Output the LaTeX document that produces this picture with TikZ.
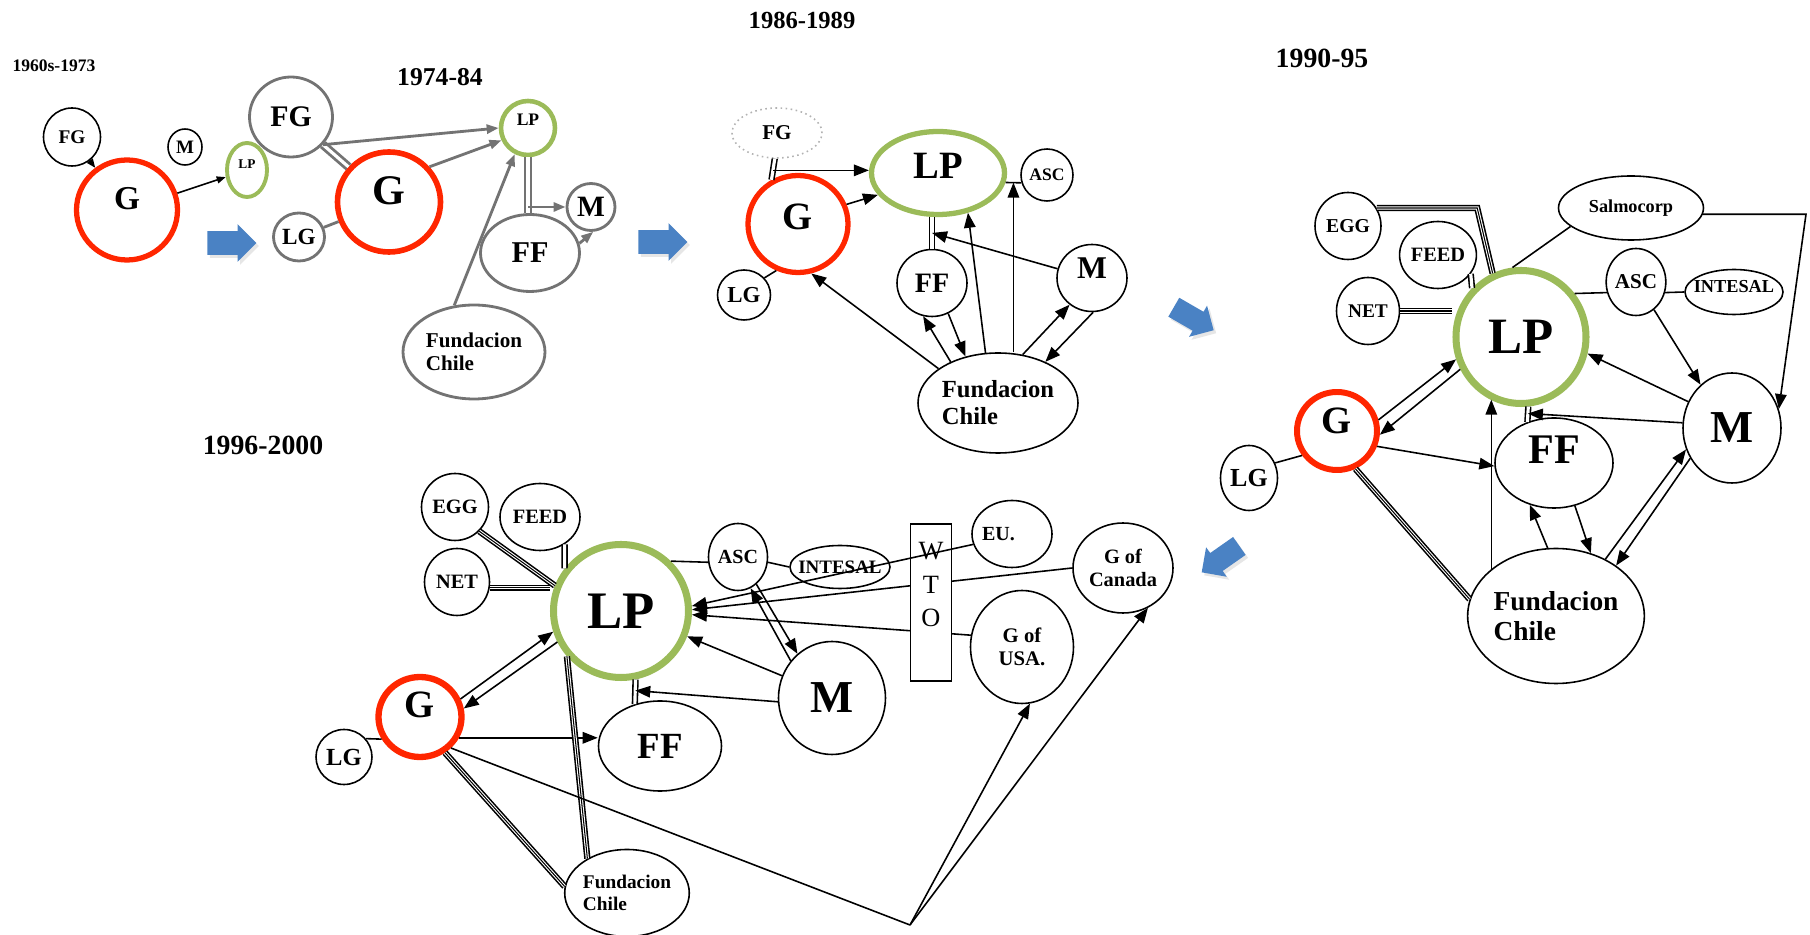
\documentclass[tikz,border=0pt]{standalone}
\usepackage{fontspec}
\setmainfont{Liberation Serif}
\usetikzlibrary{shapes.geometric,shapes.arrows,arrows.meta,calc,shadows}

\definecolor{ringred}{RGB}{255,38,0}
\definecolor{ringgreen}{RGB}{155,187,89}
\definecolor{arrblue}{RGB}{74,130,196}

\newcommand{\fsz}[1]{\fontsize{#1}{#1}\selectfont}

\tikzset{
  nd/.style 2 args={ellipse, draw, inner sep=0pt, minimum width=#1, minimum height=#2},
  sz/.style={font=\bfseries\fsz{#1}},
  redring/.style 2 args={draw=ringred, line width=#1, text depth=#2},
  greenring/.style={draw=ringgreen, line width=#1},
  oldln/.style={draw=black!55, line width=0.8pt},
  dbl/.style={double, double distance=0.9pt},
  tripleln/.style={draw=white, line width=0.9pt, preaction={draw=black, line width=1.8pt}, postaction={draw=black, line width=0.3pt}},
  bluearr/.style={single arrow, fill=arrblue, draw=none, inner xsep=0pt, inner ysep=1.1mm, minimum height=4.9mm, minimum width=3.6mm, single arrow head extend=0.7mm, drop shadow={opacity=0.2, shadow xshift=0.25mm, shadow yshift=-0.3mm}},
}

\begin{document}
\begin{tikzpicture}[x=0.1mm, y=-0.1mm, line width=0.45pt, >={Triangle[length=1.5mm,width=1.15mm]}]
\useasboundingbox (0,0) rectangle (1810,935);

% 1960s-1973
\begin{scope}[>={Triangle[length=0.9mm,width=0.7mm]}]
\node[sz=5] (ta) at (54,66) {1960s-1973};
\node[nd={5.7mm}{5.8mm}, sz=5.5] (FGa) at (72,137) {FG};
\node[nd={3.4mm}{3.6mm}, sz=5.4] (Ma) at (185,147) {M};
\node[nd={10.1mm}{10mm}, redring={1.5pt}{2.4mm}, sz=9.5] (Ga) at (127,210) {G};
\node[nd={4mm}{5.4mm}, greenring=1.1pt, text depth=1.2mm, sz=3.8] (LPa) at (247,170) {LP};
\draw[->] (FGa) -- (Ga);
\draw[->] (Ga) -- (LPa);
\end{scope}

% 1974-84
\begin{scope}[>={Triangle[length=1.2mm,width=0.9mm]}]
\node[sz=7.3] (tb) at (440,77) {1974-84};
\node[nd={8.3mm}{8mm}, oldln, sz=8.5] (FGb) at (291,117) {FG};
\node[nd={10.3mm}{10mm}, redring={1.6pt}{2.2mm}, sz=12] (Gb) at (389,202) {G};
\node[nd={5.1mm}{4.8mm}, oldln, sz=6.6] (LGb) at (299,237) {LG};
\node[nd={5.4mm}{5.4mm}, greenring=1.3pt, text depth=1.6mm, sz=5] (LPb) at (528,128) {LP};
\node[nd={4.8mm}{4.7mm}, oldln, sz=8.4] (Mb) at (591,207) {M};
\node[nd={9.9mm}{7.7mm}, oldln, sz=8.6] (FFb) at (530,253) {FF};
\node[nd={14.2mm}{9.4mm}, oldln, sz=6, align=left] (FCb) at (474,352) {Fundacion\\[0.1em]Chile};
\draw[oldln, dbl] (FGb) -- (Gb);
\draw[oldln, ->] (FGb.-41) -- (LPb.180);
\draw[oldln, ->] (Gb.41) -- (LPb.205);
\draw[oldln, ->] (FCb.113) -- (LPb.243);
\draw[oldln, dbl] (LPb.south) -- (LPb.south |- FFb.north);
\draw[oldln, ->] (Mb.west -| LPb.south) -- (Mb.west);
\draw[oldln, ->] (FFb.11) -- (Mb.-85);
\draw[oldln] (LGb) -- (Gb);
\end{scope}

% 1986-1989
\node[sz=7] (tc) at (802,20) {1986-1989};
\node[nd={9mm}{5mm}, draw=black!30, densely dotted, sz=6] (FGc) at (777,133) {FG};
\node[nd={10mm}{9.7mm}, redring={1.5pt}{1.4mm}, sz=11] (Gc) at (798,224) {G};
\node[nd={13.3mm}{8.3mm}, greenring=1.5pt, text depth=1.4mm, sz=11] (LPc) at (938,173) {LP};
\node[nd={5.2mm}{5.2mm}, sz=5] (ASCc) at (1047,175) {ASC};
\node[nd={5.3mm}{5mm}, sz=6.5] (LGc) at (744,295) {LG};
\node[nd={7mm}{6.7mm}, sz=8] (FFc) at (932,283) {FF};
\node[nd={7mm}{6.7mm}, text depth=2mm, sz=9] (Mc) at (1092,278) {M};
\node[nd={16mm}{10mm}, sz=7, align=left] (FCc) at (998,403) {Fundacion\\[0.1em]Chile};
\draw[dbl] (FGc.-95) -- (Gc.121);
\coordinate (fgj) at ($(FGc.-95)!0.55!(Gc.121)$);
\draw[->] (fgj) -- (fgj -| LPc.west);
\draw[->] (Gc.22) -- (LPc.200);
\draw (LGc.40) -- (Gc.-115);
\draw[dbl] (FFc.north) -- (FFc.north |- LPc.south);
\coordinate (lfc) at ($(FFc.north)!0.5!(FFc.north |- LPc.south)$);
\draw[->] (Mc.165) -- (lfc);
\draw[->] (FCc.150) -- (Gc.-75);
\draw[->] (FCc.139) -- (FFc.-105);
\draw[->] (FFc.-62) -- (FCc.125);
\draw[->] (FCc.104) -- (LPc.-53);
\draw (LPc.-8) -- (ASCc.-163);
\coordinate (lac) at ($(LPc.-8)!0.5!(ASCc.-163)$);
\draw[->] (lac |- FCc.north) -- (lac);
\draw[->] (FCc.63) -- (Mc.230);
\draw[->] (Mc.-88) -- (FCc.41);

% 1990-95
\node[sz=7.9] (td) at (1322,58) {1990-95};
\node[nd={6.6mm}{6.7mm}, sz=5.6] (EGGd) at (1348,226) {EGG};
\node[nd={7.6mm}{6.7mm}, sz=5.8] (FEEDd) at (1438,255) {FEED};
\node[nd={6.3mm}{6.7mm}, sz=5.5] (NETd) at (1368,311) {NET};
\node[nd={14.5mm}{6.4mm}, sz=5.2] (SALd) at (1631,208) {Salmocorp};
\node[nd={5.8mm}{6.7mm}, sz=6] (ASCd) at (1636,282) {ASC};
\node[nd={9.8mm}{4.5mm}, inner xsep=-1mm, text depth=1.2mm, sz=5.2] (INTd) at (1734,292) {INTESAL};
\node[nd={13mm}{13.3mm}, greenring=2pt, sz=14.5] (LPd) at (1521,337) {LP};
\node[nd={8mm}{7.8mm}, redring={1.7pt}{2mm}, sz=11] (Gd) at (1337,431) {G};
\node[nd={5.7mm}{6.5mm}, sz=7.4] (LGd) at (1249,478) {LG};
\node[nd={11.8mm}{9mm}, text depth=2.6mm, sz=12] (FFd) at (1554,463) {FF};
\node[nd={9.8mm}{11mm}, sz=13] (Md) at (1732,428) {M};
\node[nd={17.5mm}{13.5mm}, sz=7.8, align=left] (FCd) at (1556,616) {Fundacion\\[0.1em]Chile};
\coordinate (salc) at (1806,211);
\draw[tripleln] (EGGd.32) -- (EGGd.32 -| FEEDd.east) -- (LPd.114);
\draw[dbl] (FEEDd.-30) -- (LPd.135);
\draw[tripleln] (NETd.east) -- (NETd.east -| LPd.west);
\draw (SALd.197) -- (LPd.97);
\draw[->] (SALd.-5) -- (SALd.-5 -| salc) -- (Md.22);
\draw (LPd.39) -- (ASCd.200);
\draw (ASCd.-20) -- (INTd.west);
\draw[->] (ASCd.-57) -- (Md.126);
\draw[->] (Md.149) -- (LPd.-14);
\draw[dbl] (LPd.-84) -- (FFd.123);
\coordinate (lfd) at ($(LPd.-84)!0.45!(FFd.123)$);
\draw[->] (Md.174) -- (lfd);
\draw[->] (FCd.144) -- (FCd.144 |- LPd.-116);
\draw[->] (Gd.15) -- (LPd.199);
\draw[->] (LPd.208) -- (Gd.-5);
\draw[->] (Gd.-21) -- (FFd.183);
\draw[tripleln] (Gd.-64) -- (FCd.169);
\draw (LGd.30) -- (Gd.215);
\draw[->] (FCd.97) -- (FFd.-120);
\draw[->] (FFd.-64) -- (FCd.61);
\draw[->] (FCd.49) -- (Md.205);
\draw[->] (Md.216) -- (FCd.40);

% 1996-2000
\node[sz=7.9] (te) at (263,445) {1996-2000};
\node[nd={6.7mm}{6.7mm}, sz=5.8] (EGGe) at (455,507) {EGG};
\node[nd={8mm}{6.7mm}, sz=5.8] (FEEDe) at (540,517) {FEED};
\node[nd={6.5mm}{6.7mm}, sz=5.8] (NETe) at (457,582) {NET};
\node[nd={13.5mm}{13.3mm}, greenring=2pt, sz=15] (LPe) at (621,611) {LP};
\node[nd={5.9mm}{6.7mm}, sz=5.7] (ASCe) at (738,557) {ASC};
\node[nd={10mm}{4.3mm}, inner xsep=-1mm, sz=5.4] (INTe) at (840,567) {INTESAL};
\node[nd={8mm}{6.7mm}, text width=6mm, align=left, inner xsep=-0.5mm, sz=5.7] (EUe) at (1012,534) {EU.};
\node[nd={10mm}{9mm}, sz=5.8, align=center] (CANe) at (1123,568) {G of\\[0.1em]Canada};
\node[nd={10.3mm}{11.3mm}, sz=5.9, align=center] (USAe) at (1022,647) {G of\\[0.1em]USA.};
\node[nd={10.7mm}{11.3mm}, sz=13] (Me) at (832,698) {M};
\node[nd={12.3mm}{9mm}, sz=10.5] (FFe) at (660,746) {FF};
\node[nd={8.3mm}{8mm}, redring={1.8pt}{2.4mm}, sz=11] (Ge) at (420,717) {G};
\node[nd={5.6mm}{5.5mm}, sz=7] (LGe) at (344,757) {LG};
\node[nd={12mm}{8.7mm}, sz=5.5, align=left] (FCe) at (627,893) {Fundacion\\[0.1em]Chile};
\coordinate (bp) at (910,925);
\draw[tripleln] (EGGe.-45) -- (LPe.159);
\draw[dbl] (FEEDe.-48) -- (LPe.143);
\draw[tripleln] (NETe.-10) -- (NETe.-10 -| LPe.west);
\draw (LPe.45) -- (ASCe.190);
\draw (ASCe.-10) -- (INTe.west);
\draw[->] (ASCe.-56) -- (Me.128);
\draw[->] (Me.138) -- (ASCe.-68);
\draw[->] (CANe.west) -- (LPe.1);
\draw[->] (USAe.167) -- (LPe.-3);
\node[draw, fill=white, inner sep=0pt, minimum width=4.1mm, minimum height=15.7mm, anchor=north,
  label={[anchor=north, yshift=-0.7mm, font=\fontsize{7.5}{9.5}\selectfont, align=center]north:W\\T\\O}] (WTO) at (931,523) {};
\draw[->] (EUe.195) -- (LPe.4);
\draw[->] (Me.156) -- (LPe.-21);
\draw[dbl] (LPe.-78) -- (FFe.121);
\coordinate (lfe) at ($(LPe.-78)!0.45!(FFe.121)$);
\draw[->] (Me.184) -- (lfe);
\draw[->] (Ge.24) -- (LPe.197);
\draw[->] (LPe.206) -- (Ge.11);
\draw[->] (Ge.-28) -- (Ge.-28 -| FFe.west);
\draw[tripleln] (Ge.-55) -- (FCe.174);
\draw[tripleln] (LPe.220) -- (FCe.139);
\draw (LGe.40) -- (Ge.210);
\draw (Ge.-45) -- (bp);
\draw[->] (bp) -- (USAe.-82);
\draw[->] (bp) -- (CANe.-58);

% arrows between periods
\node[bluearr] (ba1) at (226,243) {};
\node[bluearr] (ba2) at (657,242) {};
\node[bluearr, minimum height=4.6mm, inner ysep=1mm, rotate=-30] (ba3) at (1189,316) {};
\node[bluearr, minimum height=4.6mm, inner ysep=1mm, rotate=215] (ba4) at (1225,556) {};
\end{tikzpicture}
\end{document}
